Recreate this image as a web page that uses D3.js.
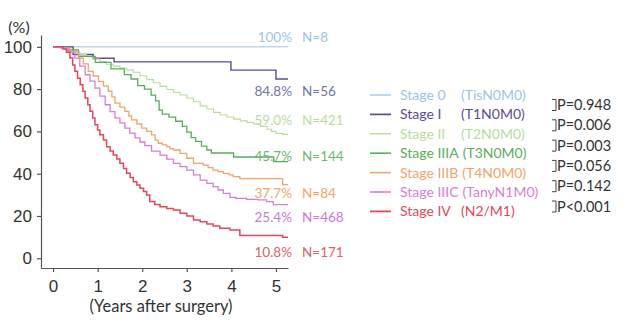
<!DOCTYPE html>
<html>
<head>
<meta charset="utf-8">
<script src="https://cdn.jsdelivr.net/npm/d3@7"></script>
<style>
  body { margin: 0; background: #fff; }
  svg { display: block; font-family: Lato, "Open Sans", sans-serif; }
</style>
</head>
<body>
<svg width="640" height="327"></svg>
<script>
// survival curves, [years, % surviving]
var stage0 = [[0, 100], [5.27, 100]];
var stage1 = [[0, 100], [0.45, 96.4], [0.9, 94.6], [1.37, 92.9], [3.99, 89.0], [5.0, 84.8], [5.27, 84.8]];
var stage2 = [[0, 100], [0.15, 99.3], [0.3, 98.4], [0.45, 97.5], [0.6, 96.4], [0.75, 95.3], [0.9, 94.2],
  [1.05, 93.0], [1.2, 91.8], [1.35, 90.9], [1.5, 90.0], [1.65, 89.1], [1.8, 88.0], [1.95, 86.3],
  [2.1, 84.5], [2.25, 83.0], [2.4, 81.3], [2.55, 79.8], [2.7, 78.5], [2.85, 77.2], [3.0, 75.8],
  [3.15, 74.0], [3.3, 72.1], [3.45, 70.6], [3.6, 69.0], [3.75, 67.9], [3.9, 66.8], [4.05, 65.8],
  [4.2, 65.0], [4.35, 64.2], [4.5, 63.5], [4.65, 62.4], [4.8, 61.0], [4.9, 60.0], [5.0, 59.0],
  [5.15, 58.6], [5.27, 58.6]];
var stage3a = [[0, 100], [0.3, 98.5], [0.57, 95.5], [0.95, 92.7], [1.3, 89.6], [1.6, 86.9], [1.75, 84.8],
  [1.9, 81.7], [2.05, 80.0], [2.2, 77.2], [2.3, 74.4], [2.38, 70.1], [2.45, 68.2], [2.6, 66.8],
  [2.75, 64.8], [2.9, 62.4], [3.0, 59.7], [3.1, 57.1], [3.2, 55.3], [3.33, 53.0], [3.45, 51.2],
  [3.55, 49.8], [4.05, 47.9], [4.95, 45.7], [5.27, 45.7]];
var stage3b = [[0, 100], [0.2, 99.0], [0.4, 97.5], [0.57, 94.7], [0.68, 91.9], [0.79, 88.4], [0.9, 86.2],
  [1.02, 83.7], [1.13, 81.5], [1.24, 79.0], [1.32, 76.3], [1.39, 73.4], [1.5, 71.5], [1.61, 69.5],
  [1.7, 67.3], [1.76, 65.5], [1.88, 63.5], [1.99, 61.6], [2.1, 60.0], [2.21, 58.4], [2.29, 55.9],
  [2.36, 54.4], [2.45, 53.6], [2.55, 52.8], [2.62, 51.9], [2.7, 51.2], [2.85, 49.6], [3.0, 47.3],
  [3.15, 44.9], [3.37, 44.1], [3.48, 42.9], [3.59, 41.7], [3.7, 41.0], [3.82, 40.2], [3.95, 39.4],
  [4.04, 38.6], [4.19, 37.7], [5.15, 34.8], [5.27, 34.8]];
var stage3c = [[0, 100], [0.19, 99.5], [0.35, 97.5], [0.49, 94.7], [0.6, 90.9], [0.72, 86.8], [0.83, 83.8],
  [0.94, 80.5], [1.05, 76.7], [1.17, 72.6], [1.28, 69.4], [1.39, 66.3], [1.5, 64.0], [1.61, 61.6],
  [1.72, 59.2], [1.84, 56.9], [1.95, 55.0], [2.06, 53.3], [2.21, 50.7], [2.4, 48.8], [2.55, 46.9],
  [2.7, 44.9], [2.85, 43.3], [3.0, 41.7], [3.15, 39.4], [3.3, 37.0], [3.45, 35.4], [3.59, 33.9],
  [3.7, 32.3], [3.82, 30.7], [3.97, 28.8], [4.1, 28.3], [4.34, 27.9], [4.6, 27.6], [4.79, 26.8],
  [4.94, 25.4], [5.27, 25.4]];
var stage4 = [[0, 100], [0.23, 99.0], [0.3, 97.5], [0.38, 94.7], [0.44, 91.4], [0.49, 88.4], [0.55, 85.2],
  [0.61, 82.1], [0.67, 79.0], [0.72, 75.8], [0.78, 72.6], [0.83, 69.5], [0.89, 66.3], [0.94, 63.2],
  [1.0, 60.7], [1.05, 58.4], [1.13, 55.9], [1.2, 52.8], [1.28, 50.7], [1.35, 48.8], [1.43, 46.9],
  [1.5, 44.9], [1.58, 42.5], [1.65, 40.2], [1.73, 38.2], [1.8, 36.2], [1.88, 34.7], [1.95, 33.1],
  [2.03, 31.6], [2.1, 29.9], [2.17, 26.8], [2.28, 25.4], [2.4, 24.4], [2.55, 23.5], [2.7, 22.8],
  [2.85, 21.3], [3.0, 20.0], [3.15, 18.1], [3.3, 17.3], [3.45, 16.2], [3.59, 15.3], [3.74, 14.2],
  [3.97, 13.4], [4.19, 10.8], [5.15, 9.9], [5.27, 9.9]];

var stages = ["Stage 0", "Stage I", "Stage II", "Stage IIIA", "Stage IIIB", "Stage IIIC", "Stage IV"];
var tnm = ["(TisN0M0)", "(T1N0M0)", "(T2N0M0)", "(T3N0M0)", "(T4N0M0)", "(TanyN1M0)", "(N2/M1)"];
var fiveYear = ["100%", "84.8%", "59.0%", "45.7%", "37.7%", "25.4%", "10.8%"];
var counts = [8, 56, 421, 144, 84, 468, 171];
var pValues = ["P=0.948", "P=0.006", "P=0.003", "P=0.056", "P=0.142", "P<0.001"];
var yTicks = [0, 20, 40, 60, 80, 100];
var xTicks = [0, 1, 2, 3, 4, 5];

var curves = [stage0, stage1, stage2, stage3a, stage3b, stage3c, stage4];
var colors = ["#9cc4e8", "#5b4a9c", "#b9dc9e", "#5aad5a", "#f2a46c", "#d77ed6", "#e2485c"];
var labelColors = ["#9cc4e8", "#7470b4", "#b9dc9e", "#6cb86c", "#f2a46c", "#c879d6", "#e0606e"];
var widths = [1, 1.4, 1.1, 1.3, 1.3, 1.3, 1.5];
var labelY = [42, 96, 124.5, 160.5, 197.5, 221.5, 256.5];

var svg = d3.select("svg");

var x = d3.scaleLinear().domain([-0.27, 5.27]).range([41, 288]);
var y = d3.scaleLinear().domain([-4.6, 105.6]).range([268, 35]);

var axisColor = "#555";

var yAxis = svg.append("g")
    .attr("transform", "translate(41,0)")
    .call(d3.axisLeft(y).tickValues(yTicks).tickSize(4).tickSizeOuter(0).tickPadding(6));
var xAxis = svg.append("g")
    .attr("transform", "translate(0,268)")
    .call(d3.axisBottom(x).tickValues(xTicks).tickFormat(d3.format("d"))
        .tickSize(4).tickSizeOuter(0).tickPadding(8));

[yAxis, xAxis].forEach(function(g) {
    g.selectAll("path, line").attr("stroke", axisColor).attr("stroke-width", 1.2);
    g.selectAll("text").attr("fill", "#333").style("font-size", "17px");
});
yAxis.selectAll("text").attr("x", -9);

svg.append("text")
    .attr("x", 19).attr("y", 33)
    .attr("text-anchor", "middle")
    .attr("fill", "#333").style("font-size", "16px")
    .text("(%)");

svg.append("text")
    .attr("x", 161).attr("y", 312)
    .attr("text-anchor", "middle")
    .attr("fill", "#333").style("font-size", "16.5px")
    .text("(Years after surgery)");

var line = d3.line()
    .x(function(d) { return x(d[0]); })
    .y(function(d) { return y(d[1]); })
    .curve(d3.curveStepAfter);

svg.append("g").selectAll("path")
    .data(curves)
    .enter().append("path")
    .attr("d", line)
    .attr("fill", "none")
    .attr("stroke", function(d, i) { return colors[i]; })
    .attr("stroke-width", function(d, i) { return widths[i]; });

// 5-year survival and group size at the right end of each curve
var ends = svg.append("g").style("font-size", "13.5px");
fiveYear.forEach(function(p, i) {
    ends.append("text")
        .attr("x", 292).attr("y", labelY[i])
        .attr("text-anchor", "end")
        .attr("fill", labelColors[i])
        .text(p);
    ends.append("text")
        .attr("x", 302).attr("y", labelY[i])
        .attr("fill", labelColors[i])
        .text("N=" + counts[i]);
});

// legend
var legend = svg.append("g").style("font-size", "14px");
stages.forEach(function(s, i) {
    var cy = 95 + i * 19.4;
    legend.append("line")
        .attr("x1", 370).attr("x2", 391)
        .attr("y1", cy).attr("y2", cy)
        .attr("stroke", colors[i])
        .attr("stroke-width", widths[i] + 0.3);
    var t = legend.append("text")
        .attr("x", 400).attr("y", cy + 5)
        .attr("fill", colors[i])
        .text(s);
    var w = t.node().getComputedTextLength();
    legend.append("text")
        .attr("x", Math.max(461, 400 + w + 4)).attr("y", cy + 5)
        .attr("fill", colors[i])
        .text(tnm[i]);
});

// log-rank p-values between neighbouring stages
var pg = svg.append("g").style("font-size", "14.5px");
pValues.forEach(function(p, i) {
    var cy = 105 + i * 20.3;
    pg.append("path")
        .attr("d", "M552," + (cy - 5.5) + "H556V" + (cy + 5.5) + "H552")
        .attr("fill", "none")
        .attr("stroke", "#444")
        .attr("stroke-width", 1);
    pg.append("text")
        .attr("x", 557).attr("y", cy + 5)
        .attr("fill", "#333")
        .text(p);
});
</script>
</body>
</html>
